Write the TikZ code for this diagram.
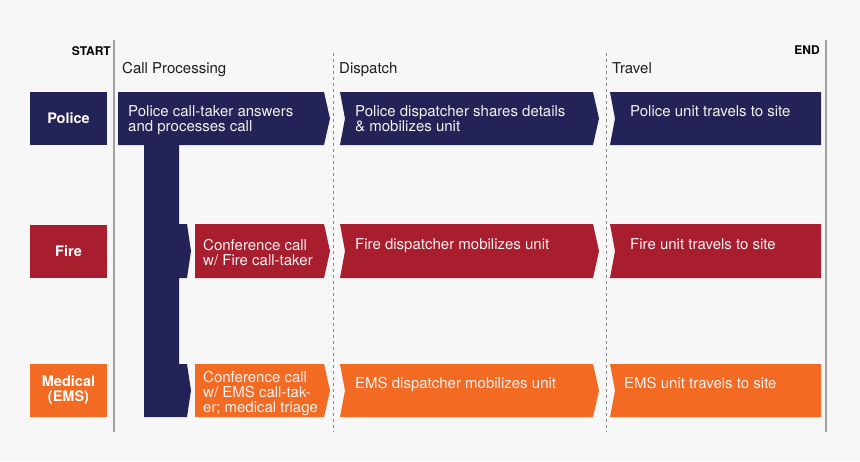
\documentclass[tikz,border=0pt]{standalone}
\usepackage{fontspec}
\setmainfont{TeX Gyre Heros}
\definecolor{pagegray}{HTML}{F7F7F7}
\definecolor{policeblue}{HTML}{232357}
\definecolor{firered}{HTML}{A91E2E}
\definecolor{emsorange}{HTML}{F36A23}
\definecolor{boxtext}{HTML}{F2F2F2}
\definecolor{headgray}{HTML}{1E1E1E}
\definecolor{railgray}{HTML}{A0A0A0}
\definecolor{splitgray}{HTML}{8A8A8A}
\tikzset{
  steptext/.style={anchor=north west, inner sep=0pt, align=left, text=boxtext,
    font=\fontsize{15}{15}\selectfont},
  headtext/.style={anchor=north west, inner sep=0pt, text=headgray,
    font=\fontsize{15}{15}\selectfont},
  marktext/.style={inner sep=0pt, text=black, font=\bfseries\fontsize{12}{12}\selectfont},
  agency/.style={minimum width=77pt, minimum height=53pt, inner sep=0pt, text=white,
    align=center, font=\bfseries\fontsize{14.5}{15}\selectfont},
  phaserail/.style={draw=railgray, line width=1.3pt},
  phasesplit/.style={draw=splitgray, line width=0.9pt, dash pattern=on 3pt off 3pt},
}
\begin{document}
\begin{tikzpicture}[x=1pt,y=-1pt]
    \fill[pagegray] (0,0) rectangle (860,461);

    % start / end rails and phase splits
    \draw[phaserail] (114,40) -- (114,432);
    \draw[phaserail] (826,40) -- (826,432);
    \draw[phasesplit] (333.5,53) -- (333.5,432);
    \draw[phasesplit] (606,53) -- (606,432);

    \node[marktext, anchor=north east] (start) at (111,46) {START};
    \node[marktext, anchor=north east] (end) at (820,46) {END};

    \node[headtext] (callhead) at (122,62) {Call Processing};
    \node[headtext] (disphead) at (339,62) {Dispatch};
    \node[headtext] (travhead) at (612,62) {Travel};

    % agencies
    \node[agency, fill=policeblue] (police) at (68.5,118.5) {Police};
    \node[agency, fill=firered] (fire) at (68.5,251.5) {Fire};
    \node[agency, fill=emsorange] (ems) at (68.5,390.5) {Medical\\(EMS)};

    % police row
    \fill[policeblue] (118,92) -- (324,92) -- (330,118.5) -- (324,145) -- (118,145) -- cycle;
    \fill[policeblue] (144,145) -- (179,145) -- (179,224) -- (187,224) -- (191,251)
        -- (187,278) -- (179,278) -- (179,364) -- (187,364) -- (191,390.5)
        -- (187,417) -- (144,417) -- cycle;
    \fill[policeblue] (340,92) -- (593,92) -- (599,118.5) -- (593,145) -- (340,145)
        -- (345,118.5) -- cycle;
    \fill[policeblue] (610,92) -- (821,92) -- (821,145) -- (610,145) -- (615,118.5) -- cycle;

    % fire row
    \fill[firered] (195,224) -- (324,224) -- (330,251) -- (324,278) -- (195,278) -- cycle;
    \fill[firered] (340,224) -- (593,224) -- (599,251) -- (593,278) -- (340,278)
        -- (345,251) -- cycle;
    \fill[firered] (610,224) -- (821,224) -- (821,278) -- (610,278) -- (615,251) -- cycle;

    % ems row
    \fill[emsorange] (195,364) -- (324,364) -- (330,390.5) -- (324,417) -- (195,417) -- cycle;
    \fill[emsorange] (340,364) -- (593,364) -- (599,390.5) -- (593,417) -- (340,417)
        -- (345,390.5) -- cycle;
    \fill[emsorange] (610,364) -- (821,364) -- (821,417) -- (610,417) -- (615,390.5) -- cycle;

    \node[steptext] (policetake) at (128,105) {Police call-taker answers\\and processes call};
    \node[steptext] (policedisp) at (355,105) {Police dispatcher shares details\\\& mobilizes unit};
    \node[steptext] (policetrav) at (630,105) {Police unit travels to site};

    \node[steptext] (firetake) at (203,239) {Conference call\\w/ Fire call-taker};
    \node[steptext] (firedisp) at (355,238.5) {Fire dispatcher mobilizes unit};
    \node[steptext] (firetrav) at (630,238.5) {Fire unit travels to site};

    \node[steptext] (emstake) at (203,371) {Conference call\\w/ EMS call-tak-\\er; medical triage};
    \node[steptext] (emsdisp) at (355,377) {EMS dispatcher mobilizes unit};
    \node[steptext] (emstrav) at (624,377) {EMS unit travels to site};
\end{tikzpicture}
\end{document}
